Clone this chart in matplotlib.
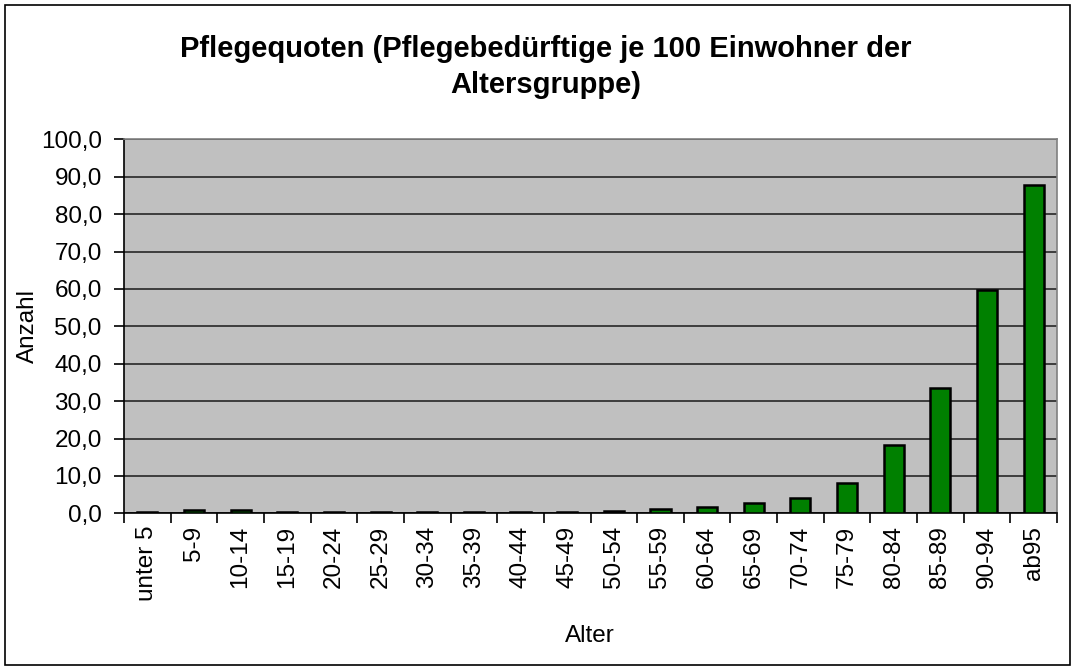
import matplotlib
matplotlib.use("Agg")
import matplotlib.pyplot as plt
from matplotlib.patches import Rectangle
import numpy as np

categories = ["unter 5", "5-9", "10-14", "15-19", "20-24", "25-29", "30-34", "35-39",
              "40-44", "45-49", "50-54", "55-59", "60-64", "65-69", "70-74", "75-79",
              "80-84", "85-89", "90-94", "ab95"]
values = [0.3, 1.0, 1.0, 0.3, 0.3, 0.3, 0.3, 0.3, 0.3, 0.3, 0.6, 1.1, 1.7, 2.8, 4.1,
          8.2, 18.2, 33.5, 59.7, 87.7]
yticks = [0, 10, 20, 30, 40, 50, 60, 70, 80, 90, 100]

plt.rcParams['font.family'] = ['Liberation Sans', 'DejaVu Sans']

W, H = 1075, 668
fig = plt.figure(figsize=(W / 100, H / 100), dpi=100)
fig.patch.set_facecolor("white")
fig.patches.append(Rectangle((5 / W, 3 / H), (W - 10) / W, (H - 8) / H,
                             transform=fig.transFigure, fill=False,
                             edgecolor="black", linewidth=1.2))

left, right, top, bottom = 124, 1057, 139.3, 513.3
ax = fig.add_axes([left / W, 1 - bottom / H, (right - left) / W, (bottom - top) / H])
ax.set_facecolor("#C0C0C0")

x = np.arange(len(categories))
ax.bar(x, values, width=0.43, color="#008000", edgecolor="black", linewidth=1.8, zorder=3)

ax.set_xlim(-0.5, len(categories) - 0.5)
ax.set_ylim(0, 100)
ax.set_yticks(yticks)
ax.set_yticklabels([f"{v:.1f}".replace(".", ",") for v in yticks], fontsize=17.5)
ax.yaxis.grid(True, color="#333333", linewidth=1.3, zorder=1)
ax.set_axisbelow(True)

ax.set_xticks(x)
ax.set_xticklabels(categories, rotation=90, fontsize=17.5, va="top")
ax.set_xticks(np.arange(len(categories) + 1) - 0.5, minor=True)
ax.tick_params(axis="x", which="major", length=0, pad=9)
ax.tick_params(axis="x", which="minor", length=7, width=1.2, direction="out")
ax.tick_params(axis="y", length=7, width=1.2, direction="out", pad=9)

for s in ["top", "right"]:
    ax.spines[s].set_color("#808080")
    ax.spines[s].set_linewidth(1.2)
ax.spines["left"].set_color("black")
ax.spines["bottom"].set_color("black")
ax.spines["left"].set_linewidth(1.2)
ax.spines["bottom"].set_linewidth(1.2)

fig.text(546 / W, 1 - 67 / H, "Pflegequoten (Pflegebedürftige je 100 Einwohner der\nAltersgruppe)",
         ha="center", va="center", fontsize=21, fontweight="bold", linespacing=1.4)
fig.text(28 / W, 1 - 326 / H, "Anzahl", rotation=90, ha="center", va="center", fontsize=17.5)
fig.text(590 / W, 1 - 636 / H, "Alter", ha="center", va="center", fontsize=17.5)

fig.savefig("out.png", dpi=100)
